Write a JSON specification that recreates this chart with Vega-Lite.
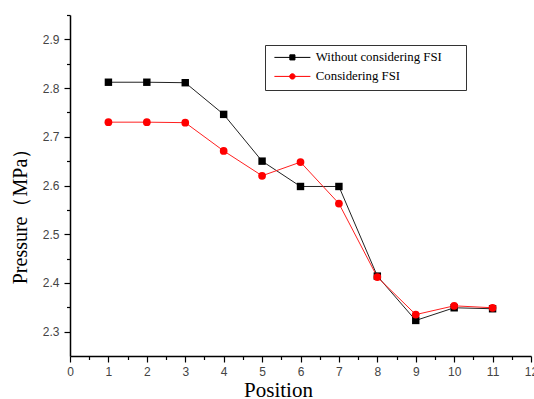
{
  "$schema": "https://vega.github.io/schema/vega-lite/v6.json",
  "autosize": "none",
  "padding": {"left": 70, "top": 15, "right": 3, "bottom": 43},
  "width": 461,
  "height": 341,
  "background": "white",
  "config": {"view": {"stroke": null}},
  "data": {
    "values": [
      {"position": 1, "pressure": 2.812, "series": "Without considering FSI"},
      {"position": 2, "pressure": 2.812, "series": "Without considering FSI"},
      {"position": 3, "pressure": 2.811, "series": "Without considering FSI"},
      {"position": 4, "pressure": 2.746, "series": "Without considering FSI"},
      {"position": 5, "pressure": 2.650, "series": "Without considering FSI"},
      {"position": 6, "pressure": 2.598, "series": "Without considering FSI"},
      {"position": 7, "pressure": 2.598, "series": "Without considering FSI"},
      {"position": 8, "pressure": 2.414, "series": "Without considering FSI"},
      {"position": 9, "pressure": 2.323, "series": "Without considering FSI"},
      {"position": 10, "pressure": 2.349, "series": "Without considering FSI"},
      {"position": 11, "pressure": 2.347, "series": "Without considering FSI"},
      {"position": 1, "pressure": 2.730, "series": "Considering FSI"},
      {"position": 2, "pressure": 2.730, "series": "Considering FSI"},
      {"position": 3, "pressure": 2.729, "series": "Considering FSI"},
      {"position": 4, "pressure": 2.671, "series": "Considering FSI"},
      {"position": 5, "pressure": 2.620, "series": "Considering FSI"},
      {"position": 6, "pressure": 2.648, "series": "Considering FSI"},
      {"position": 7, "pressure": 2.563, "series": "Considering FSI"},
      {"position": 8, "pressure": 2.412, "series": "Considering FSI"},
      {"position": 9, "pressure": 2.335, "series": "Considering FSI"},
      {"position": 10, "pressure": 2.353, "series": "Considering FSI"},
      {"position": 11, "pressure": 2.349, "series": "Considering FSI"}
    ]
  },
  "encoding": {
    "x": {"field": "position", "type": "quantitative", "scale": {"domain": [0, 12], "nice": false, "zero": false}},
    "y": {"field": "pressure", "type": "quantitative", "scale": {"domain": [2.25, 2.95], "nice": false, "zero": false}}
  },
  "layer": [
    {
      "transform": [{"filter": "datum.series === 'Without considering FSI'"}],
      "mark": {"type": "line", "color": "#222222", "strokeWidth": 1},
      "encoding": {
        "x": {"field": "position", "type": "quantitative", "axis": {
          "orient": "bottom", "values": [0,1,2,3,4,5,6,7,8,9,10,11,12], "format": "d", "grid": false,
          "domainColor": "#000000", "domainWidth": 1.5, "tickColor": "#000000", "tickSize": 6, "tickWidth": 1.2,
          "labelFont": "Liberation Sans", "labelFontSize": 12, "labelColor": "#444444", "labelPadding": 4, "labelFlush": false, "labelOverlap": false,
          "title": "Position", "titleFont": "Liberation Serif", "titleFontSize": 21, "titleFontWeight": "normal", "titleColor": "#000000",
          "titleX": 208, "titleY": 40, "titleBaseline": "alphabetic", "titleAlign": "center"
        }},
        "y": {"field": "pressure", "type": "quantitative", "axis": {
          "orient": "left", "values": [2.3, 2.4, 2.5, 2.6, 2.7, 2.8, 2.9], "format": ".1f", "grid": false,
          "domainColor": "#000000", "domainWidth": 1.5, "tickColor": "#000000", "tickSize": 6, "tickWidth": 1.2,
          "labelFont": "Liberation Sans", "labelFontSize": 12, "labelColor": "#444444", "labelPadding": 5, "labelFlush": false, "labelOverlap": false,
          "title": "Pressure（MPa）", "titleFont": "Liberation Serif", "titleFontSize": 20, "titleFontWeight": "normal", "titleColor": "#000000",
          "titleX": -44, "titleY": 196, "titleAngle": 270, "titleBaseline": "alphabetic", "titleAlign": "center"
        }}
      }
    },
    {
      "transform": [{"filter": "datum.series === 'Considering FSI'"}],
      "mark": {"type": "line", "color": "#ff2020", "strokeWidth": 1},
      "encoding": {
        "x": {"field": "position", "type": "quantitative", "axis": null},
        "y": {"field": "pressure", "type": "quantitative", "axis": null}
      }
    },
    {
      "transform": [{"filter": "datum.series === 'Without considering FSI'"}],
      "mark": {"type": "point", "shape": "square", "filled": true, "color": "#000000", "size": 55, "opacity": 1},
      "encoding": {
        "x": {"field": "position", "type": "quantitative", "axis": null},
        "y": {"field": "pressure", "type": "quantitative", "axis": null}
      }
    },
    {
      "transform": [{"filter": "datum.series === 'Considering FSI'"}],
      "mark": {"type": "point", "shape": "circle", "filled": true, "color": "#ff0000", "size": 60, "opacity": 1},
      "encoding": {
        "x": {"field": "position", "type": "quantitative", "axis": null},
        "y": {"field": "pressure", "type": "quantitative", "axis": null}
      }
    },
    {
      "mark": {"type": "point", "opacity": 0},
      "encoding": {
        "x": {"field": "position", "type": "quantitative", "axis": {
          "orient": "bottom", "values": [0.5,1.5,2.5,3.5,4.5,5.5,6.5,7.5,8.5,9.5,10.5,11.5], "labels": false, "domain": false, "grid": false,
          "tickColor": "#000000", "tickSize": 3.5, "tickWidth": 1.2, "title": null
        }},
        "y": {"field": "pressure", "type": "quantitative", "axis": {
          "orient": "left", "values": [2.35, 2.45, 2.55, 2.65, 2.75, 2.85, 2.95], "labels": false, "domain": false, "grid": false,
          "tickColor": "#000000", "tickSize": 3.5, "tickWidth": 1.2, "title": null
        }}
      }
    },
    {
      "transform": [{"filter": "datum.position < 0"}],
      "mark": {"type": "point", "filled": true, "size": 36, "opacity": 1},
      "encoding": {
        "x": {"field": "position", "type": "quantitative", "axis": null},
        "y": {"field": "pressure", "type": "quantitative", "axis": null},
        "color": {"field": "series", "type": "nominal",
          "scale": {"domain": ["Without considering FSI", "Considering FSI"], "range": ["#000000", "#ff0000"]},
          "legend": {
            "title": null, "orient": "none", "legendX": 195, "legendY": 30, "direction": "vertical",
            "padding": 6, "fillColor": "#ffffff", "strokeColor": "#333333",
            "symbolSize": 36, "symbolOffset": 15, "labelOffset": 17, "rowPadding": 5,
            "symbolStrokeWidth": 1, "symbolOpacity": 1,
            "labelFont": "Liberation Serif", "labelFontSize": 12.8, "labelColor": "#000000", "labelLimit": 300,
            "encode": {"symbols": {"update": {
              "fill": {"scale": "color", "field": "value"},
              "stroke": {"scale": "color", "field": "value"}
            }}}
          }},
        "shape": {"field": "series", "type": "nominal",
          "scale": {"domain": ["Without considering FSI", "Considering FSI"], "range": [
            "M-6,0H6M-0.85,-0.85H0.85V0.85H-0.85ZM55,0",
            "M-6,0H6M0.9,0A0.9,0.9,0,1,1,-0.9,0A0.9,0.9,0,1,1,0.9,0ZM55,0"
          ]}}
      }
    }
  ],
  "resolve": {"axis": {"x": "independent", "y": "independent"}}
}
